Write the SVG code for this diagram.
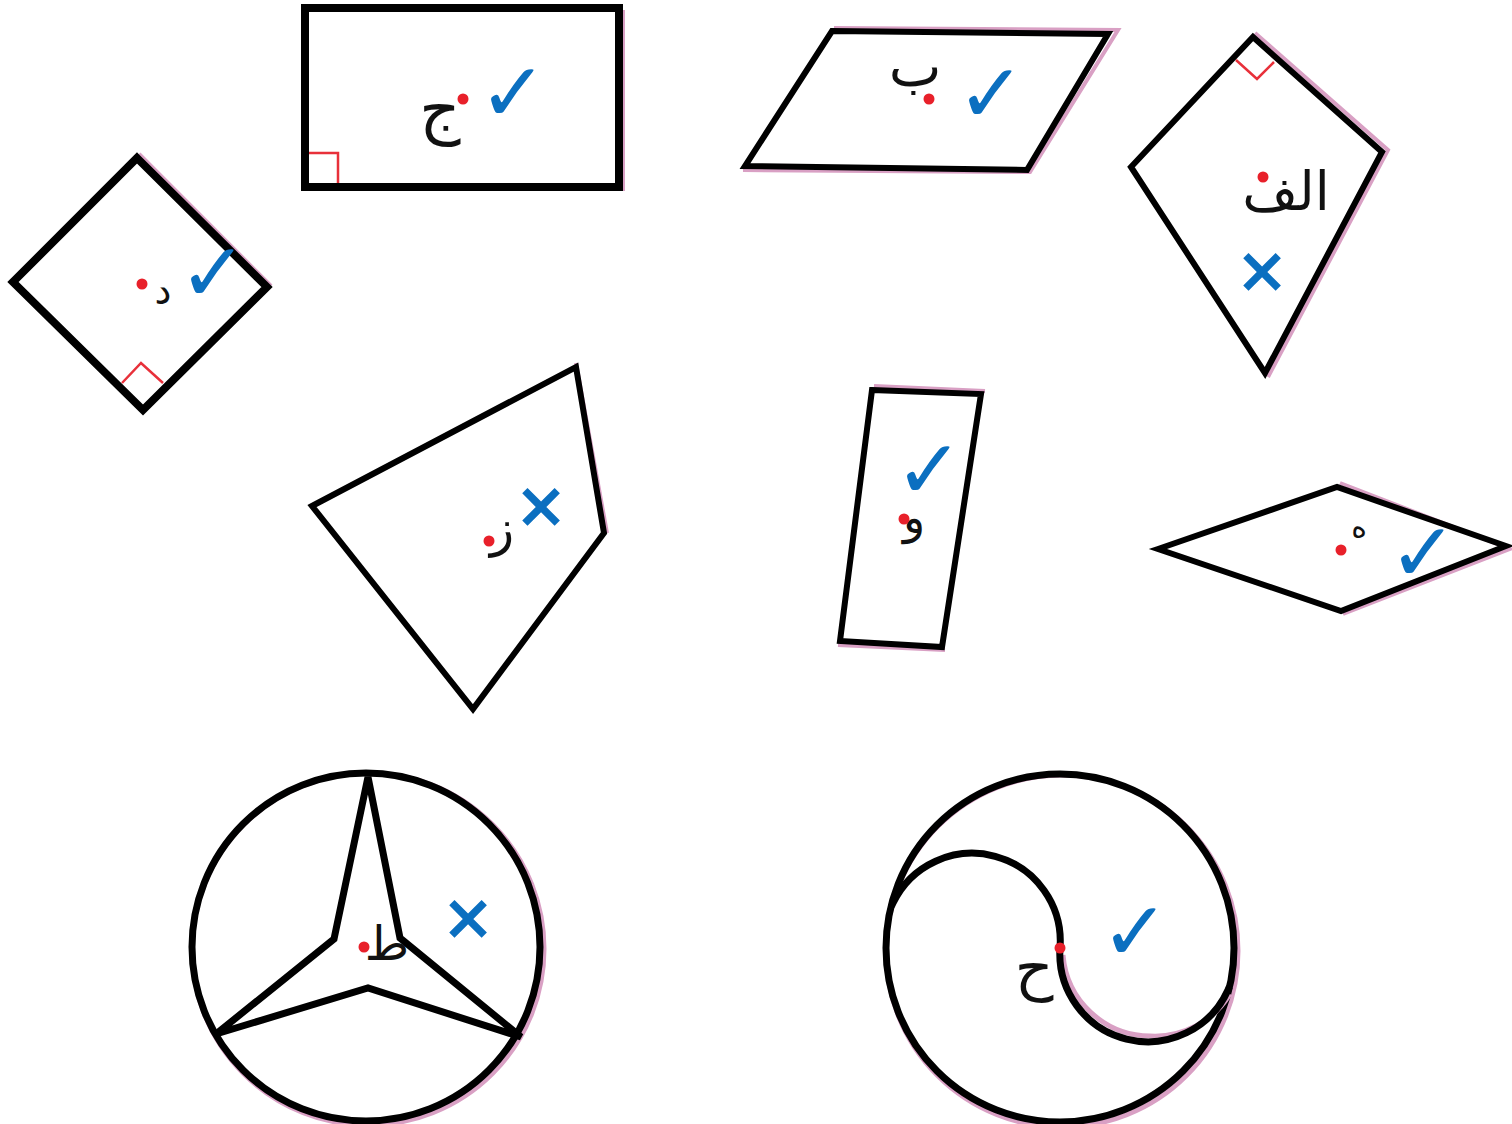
<svg xmlns="http://www.w3.org/2000/svg" width="1512" height="1124" viewBox="0 0 1512 1124">
<style>
.sh{fill:none;stroke:#000;stroke-linejoin:miter;stroke-linecap:square}
.pk{fill:none;stroke:#d9a0c4;stroke-width:4}
.ra{fill:none;stroke:#e8303a;stroke-width:2.5}
.dot{fill:#e8202a}
.lbl{font-family:"DejaVu Sans",sans-serif;fill:#111;text-anchor:middle}
.ok{font-family:"DejaVu Sans",sans-serif;fill:#0b6fc0;text-anchor:middle;font-size:82px}
.no{font-family:"DejaVu Sans",sans-serif;fill:#0b6fc0;text-anchor:middle;font-size:64px;font-weight:bold}
</style>
<rect width="1512" height="1124" fill="#fff"/>
<g id="rect-jim">
<path class="pk" d="M623 10 V191"/>
<rect class="sh" x="305" y="8" width="314" height="179" stroke-width="8"/>
<path class="ra" d="M309 153 H338 V183"/>
<text class="lbl" x="440" y="131" font-size="64">ج</text>
<circle class="dot" cx="463" cy="99" r="5.5"/>
<text class="ok" x="513" y="121">✓</text>
</g>
<g id="para-ba">
<path class="pk" d="M834 28 L1118 30 L1030 172 L743 170"/>
<path class="sh" d="M832 31 L1108 34 L1027 170 L745 166 Z" stroke-width="6"/>
<text class="lbl" x="915" y="86" font-size="56">ب</text>
<circle class="dot" cx="929" cy="99" r="5.5"/>
<text class="ok" x="991" y="122">✓</text>
</g>
<g id="kite-alef">
<path class="pk" d="M1255 33 L1388 150 L1268 377"/>
<path class="sh" d="M1253 37 L1382 152 L1265 373 L1131 167 Z" stroke-width="6"/>
<path class="ra" d="M1236 60 L1257 79 L1274 62"/>
<text class="lbl" x="1286" y="210" font-size="54">الف</text>
<circle class="dot" cx="1263" cy="177" r="5.5"/>
<text class="no" x="1262" y="292">×</text>
</g>
<g id="square-dal">
<path class="pk" d="M139 154 L271 286"/>
<path class="sh" d="M137 158 L267 287 L143 410 L13 282 Z" stroke-width="8"/>
<path class="ra" d="M122 383 L141 363 L163 383"/>
<text class="lbl" x="163" y="304" font-size="38">د</text>
<circle class="dot" cx="142" cy="284" r="5.5"/>
<text class="ok" x="213" y="301" font-size="76">✓</text>
</g>
<g id="quad-za">
<path class="pk" d="M576 363 L607 533"/>
<path class="sh" d="M312 506 L576 367 L604 533 L473 709 Z" stroke-width="6"/>
<text class="lbl" x="502" y="546" font-size="50">ز</text>
<circle class="dot" cx="489" cy="541" r="5.5"/>
<text class="no" x="541" y="527">×</text>
</g>
<g id="rect-waw">
<path class="pk" d="M874 386 L985 391 M945 650 L838 645"/>
<path class="sh" d="M872 390 L981 394 L942 647 L840 641 Z" stroke-width="6"/>
<text class="ok" x="929" y="498" font-size="80">✓</text>
<text class="lbl" x="914" y="533" font-size="46">و</text>
<circle class="dot" cx="904" cy="519" r="5.5"/>
</g>
<g id="rhombus-ha">
<path class="pk" d="M1340 483 L1510 549 L1343 614"/>
<path class="sh" d="M1158 549 L1337 487 L1506 546 L1341 611 Z" stroke-width="6"/>
<text class="lbl" x="1359" y="537" font-size="30">ه</text>
<circle class="dot" cx="1341" cy="550" r="5.5"/>
<text class="ok" x="1423" y="581">✓</text>
</g>
<g id="circle-ta">
<circle cx="368" cy="949" r="176" fill="none" stroke="#d9a0c4" stroke-width="5"/>
<circle class="sh" cx="366" cy="947" r="174" stroke-width="7"/>
<path class="sh" d="M368 777 L334 939 L216 1034 L368 988 L521 1037 L400 938 Z" stroke-width="7"/>
<text class="lbl" x="387" y="960" font-size="48">ط</text>
<circle class="dot" cx="364" cy="947" r="5.5"/>
<text class="no" x="468" y="939">×</text>
</g>
<g id="circle-ha">
<circle cx="1062" cy="951" r="176" fill="none" stroke="#d9a0c4" stroke-width="5"/>
<circle class="sh" cx="1060" cy="948" r="174" stroke-width="7"/>
<path d="M1063 955 A 88 88 0 0 0 1150 1036 A 88 88 0 0 0 1230 994" fill="none" stroke="#d9a0c4" stroke-width="5"/>
<path class="sh" d="M893 903 A 88 88 0 0 1 1060 948 A 88 88 0 0 0 1228 990" stroke-width="7" stroke-linecap="butt"/>
<text class="lbl" x="1034" y="988" font-size="60">ح</text>
<circle class="dot" cx="1060" cy="948" r="5.5"/>
<text class="ok" x="1135" y="960">✓</text>
</g>
</svg>
